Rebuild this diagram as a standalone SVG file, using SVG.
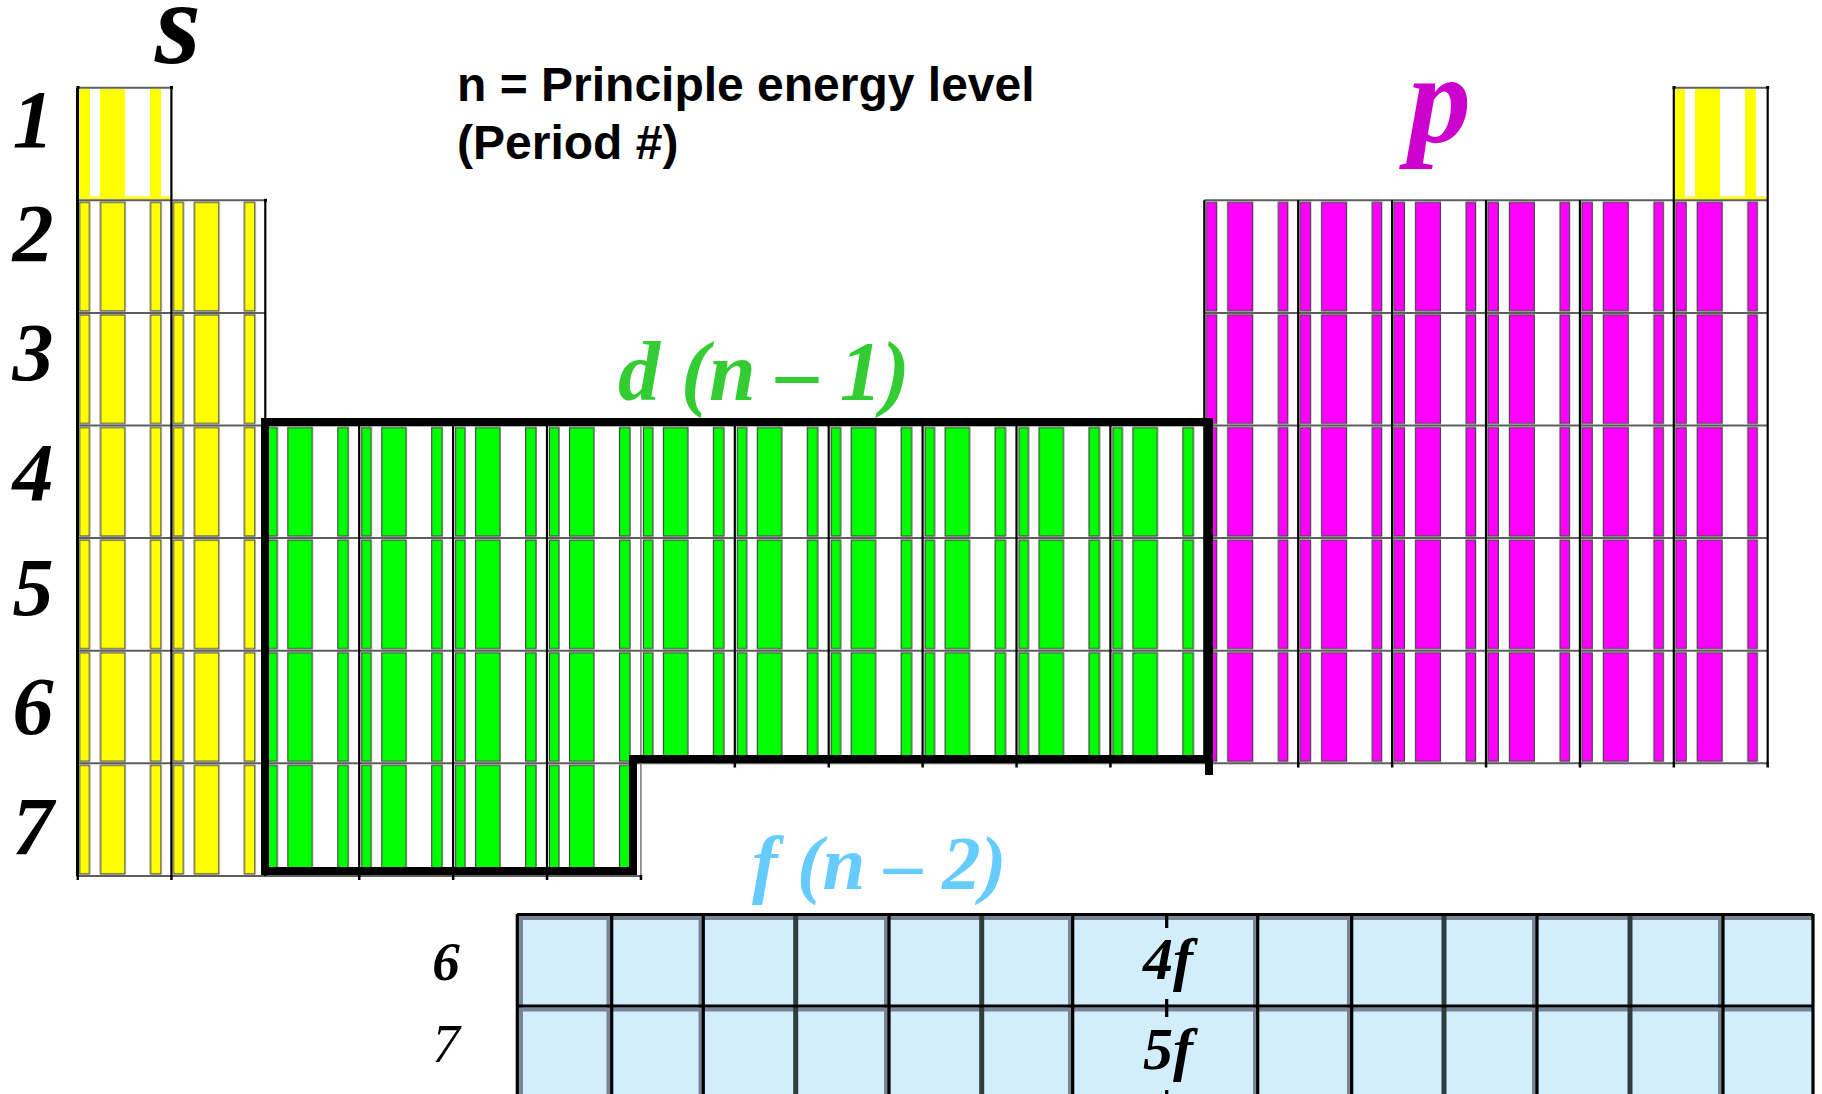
<svg xmlns="http://www.w3.org/2000/svg" width="1822" height="1094" viewBox="0 0 1822 1094">
<style>
.bi{font-family:"Liberation Serif","Times New Roman",serif;font-weight:bold;font-style:italic}
.it{font-family:"Liberation Serif","Times New Roman",serif;font-style:italic}
.hd{font-family:"Liberation Sans",Arial,sans-serif;font-weight:bold;font-size:48px;fill:#000}
.st{stroke:#454545;stroke-width:1.2}
.hl{stroke:#5e5e5e;stroke-width:2;fill:none}
.vl{stroke:#000;stroke-width:2.2;fill:none}
.tk{fill:#000}
.fg{stroke:#000;stroke-width:3.2;fill:none}
.fs{stroke:#7a8494;stroke-width:4;fill:none}
.fd{stroke:#2f3d3d;stroke-width:5;fill:none}
</style>
<defs>
<pattern id="pY" patternUnits="userSpaceOnUse" x="77.5" y="87.7" width="93.9" height="112.6">
<rect class="st" x="2" y="2" width="10" height="108.6" fill="#ffff00"/>
<rect class="st" x="23" y="2" width="24.5" height="108.6" fill="#ffff00"/>
<rect class="st" x="73" y="2" width="10.5" height="108.6" fill="#ffff00"/>
</pattern>
<pattern id="pG" patternUnits="userSpaceOnUse" x="77.5" y="87.7" width="93.9" height="112.6">
<rect class="st" x="2.5" y="2" width="9.5" height="108.6" fill="#00ff00"/>
<rect class="st" x="22.5" y="2" width="24.5" height="108.6" fill="#00ff00"/>
<rect class="st" x="72.5" y="2" width="10.5" height="108.6" fill="#00ff00"/>
</pattern>
<pattern id="pM" patternUnits="userSpaceOnUse" x="77.5" y="87.7" width="93.9" height="112.6">
<rect class="st" x="2" y="2" width="10.4" height="108.6" fill="#ff00ff"/>
<rect class="st" x="23.4" y="2" width="25" height="108.6" fill="#ff00ff"/>
<rect class="st" x="74" y="2" width="9.5" height="108.6" fill="#ff00ff"/>
</pattern>
</defs>
<rect width="1822" height="1094" fill="#fff"/>

<g id="s-block">
<rect x="78.5" y="89" width="11.5" height="109" fill="#ffff00"/>
<rect x="100" y="89" width="25" height="109" fill="#ffff00"/>
<rect x="150" y="89" width="11" height="109" fill="#ffff00"/>
<rect x="78.5" y="196.5" width="92" height="2.5" fill="#ffff00"/>
<rect x="1674.5" y="89" width="10.5" height="109" fill="#ffff00"/>
<rect x="1695" y="89" width="25" height="109" fill="#ffff00"/>
<rect x="1745" y="89" width="11" height="109" fill="#ffff00"/>
<rect x="1674.5" y="196.5" width="92" height="2.5" fill="#ffff00"/>
<rect x="77.5" y="200.3" width="187.8" height="675.6" fill="url(#pY)"/>
</g>

<g id="p-block">
<rect x="1204.3" y="200.3" width="563.4" height="563" fill="url(#pM)"/>
</g>

<g id="d-block">
<rect x="265.3" y="425.5" width="939" height="337.8" fill="url(#pG)"/>
<rect x="265.3" y="763.3" width="375.6" height="112.6" fill="url(#pG)"/>
</g>

<g id="grid">
<path class="hl" d="M77.5 87.7H171.4M1673.8 87.7H1767.7M77.5 200.3H265.3M1204.3 200.3H1767.7M77.5 312.9H265.3M1204.3 312.9H1767.7M77.5 425.5H1767.7M77.5 538.1H1767.7M77.5 650.7H1767.7M77.5 763.3H1767.7M77.5 875.9H640.9"/>
<path class="vl" d="M171.4 87.7V875.9M265.3 200.3V875.9M359.2 425.5V875.9M453.1 425.5V875.9M547 425.5V875.9M734.8 425.5V763.3M828.7 425.5V763.3M922.6 425.5V763.3M1016.5 425.5V763.3M1110.4 425.5V763.3M1204.3 200.3V763.3M1298.2 200.3V763.3M1392.1 200.3V763.3M1486 200.3V763.3M1579.9 200.3V763.3M1673.8 87.7V763.3M1767.7 87.7V763.3"/>
<path d="M640.9 425.5V875.9" stroke="#777" stroke-width="1.5"/>
<path d="M77.5 87.7V875.9" stroke="#000" stroke-width="3"/>
<g class="tk">
<rect x="76.5" y="86" width="3" height="3"/><rect x="170" y="86" width="3" height="3"/><rect x="264" y="198.8" width="3" height="3"/>
<rect x="1672.5" y="86" width="3" height="3"/><rect x="1766.2" y="86" width="3" height="3"/>
<rect x="76.5" y="875" width="2.5" height="5"/><rect x="170.2" y="875" width="2.5" height="5"/><rect x="358" y="875" width="2.5" height="5"/><rect x="451.9" y="875" width="2.5" height="5"/><rect x="545.8" y="875" width="2.5" height="5"/><rect x="639.7" y="875" width="2.5" height="5"/>
<rect x="733.6" y="762.5" width="2.5" height="5"/><rect x="827.5" y="762.5" width="2.5" height="5"/><rect x="921.4" y="762.5" width="2.5" height="5"/><rect x="1015.3" y="762.5" width="2.5" height="5"/><rect x="1109.2" y="762.5" width="2.5" height="5"/><rect x="1297" y="762.5" width="2.5" height="5"/><rect x="1390.9" y="762.5" width="2.5" height="5"/><rect x="1484.8" y="762.5" width="2.5" height="5"/><rect x="1578.7" y="762.5" width="2.5" height="5"/><rect x="1672.6" y="762.5" width="2.5" height="5"/><rect x="1766.4" y="762.5" width="2.5" height="5"/>
</g>
</g>

<g id="d-border">
<path d="M1209 775V422H265V871H633V759H1205" fill="none" stroke="#000" stroke-width="8" stroke-linejoin="miter"/>
</g>

<g id="f-block">
<rect x="517" y="914" width="1296" height="180" fill="#d2eefd"/>
<path class="fs" d="M517 918H1813M517 1009.5H1813"/>
<path class="fs" d="M521 914V1094M608.5 914V1094M700.5 914V1094M886 914V1094M1070 914V1094M1255 914V1094M1349 914V1094M1534 914V1094M1720 914V1094"/>
<path class="fd" d="M795.7 914V1094M981.7 914V1094M1444 914V1094M1630 914V1094"/>
<path class="fg" d="M517 914.5H1813M517 1006H1813"/>
<path class="fg" d="M517.3 914V1094M611.7 914V1094M703.3 914V1094M889 914V1094M1072.7 914V1094M1257.7 914V1094M1351.7 914V1094M1537 914V1094M1723 914V1094M1813 914V1094"/>
<path class="fg" d="M1166.7 914V928M1166.7 999V1017M1166.7 1090V1094"/>
<text class="bi" x="1143" y="979" font-size="60">4f</text>
<text class="bi" x="1143" y="1069" font-size="60">5f</text>
</g>

<g id="labels">
<text class="bi" x="155" y="63" font-size="118">s</text>
<text class="bi" x="1408" y="142" font-size="126" fill="#cc00cc">p</text>
<text class="bi" x="618" y="400" font-size="84" fill="#33cc33">d (n – 1)</text>
<text class="bi" x="752" y="889" font-size="77" fill="#66ccff">f (n – 2)</text>
<text class="hd" x="457" y="101">n = Principle energy level</text>
<text class="hd" x="457" y="159">(Period #)</text>
<g class="bi" font-size="82" text-anchor="middle">
<text x="33" y="147">1</text>
<text x="33" y="261">2</text>
<text x="33" y="380">3</text>
<text x="33" y="500">4</text>
<text x="33" y="615">5</text>
<text x="33" y="734">6</text>
<text x="33" y="854">7</text>
</g>
<text class="bi" x="446" y="980" font-size="55" text-anchor="middle">6</text>
<text class="it" x="446" y="1062" font-size="55" text-anchor="middle">7</text>
</g>
</svg>
